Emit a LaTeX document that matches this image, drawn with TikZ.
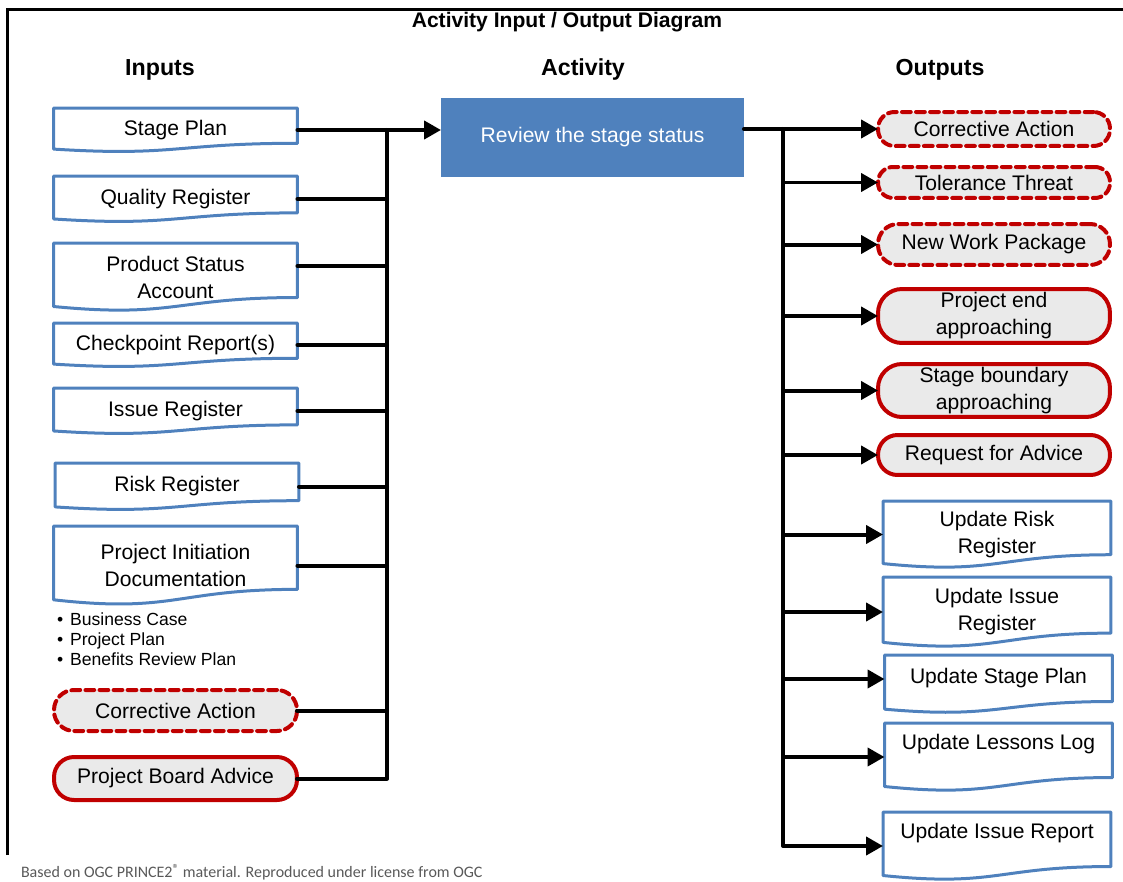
\documentclass[tikz,border=0pt]{standalone}
\usepackage{fontspec}
\setmainfont{Liberation Sans}
\newfontfamily\footfont{Carlito}
\usepackage{tikz}
\usetikzlibrary{arrows.meta, calc}

\definecolor{docblue}{HTML}{4F81BD}
\definecolor{advred}{HTML}{C00000}
\definecolor{advgray}{HTML}{EAEAEA}
\definecolor{footgray}{HTML}{595959}

% outline of a document shape round a named node
\newcommand{\docshape}[1]{%
  \draw[docline] (#1.north west) -- (#1.north east)
    -- ($(#1.north east)!0.802!(#1.south east)$)
    .. controls ($(#1.north)!0.802!(#1.south)$) and ($(#1.north)!1.107!(#1.south)$)
    .. ($(#1.north west)!0.934!(#1.south west)$) -- cycle;}

\begin{document}
\begin{tikzpicture}[line cap=round,line join=round,>={Triangle[length=0.34cm,width=0.36cm]},x=0.02cm,y=-0.02cm,
	every node/.style={font=\fontsize{12}{15.4}\selectfont, outer sep=0pt, inner sep=0pt, align=center},
	docin/.style={minimum width=4.88cm},
	docout/.style={minimum width=4.56cm},
	docline/.style={draw=docblue, line width=0.06cm},
	advin/.style={draw=advred, fill=advgray, line width=0.08cm, rounded corners=0.4cm, minimum width=4.86cm},
	advout/.style={draw=advred, fill=advgray, line width=0.08cm, rounded corners=0.3cm, minimum width=4.64cm},
	dashbox/.style={dash pattern=on 5pt off 3pt},
	uptext/.style={text height=9pt, text depth=#1},
	conn/.style={line width=0.08cm},
	head/.style={font=\bfseries\fontsize{13.2}{16}\selectfont}]
		\useasboundingbox (0,0) rectangle (1123,882);
		\draw[line width=0.06cm, line cap=butt, line join=miter] (7.5,855) -- (7.5,9.5) -- (1123,9.5);
		\node[font=\bfseries\fontsize{12}{14}\selectfont] (title) at (567,22) {Activity Input / Output Diagram};
		\node[head] (hin) at (160,70) {Inputs};
		\node[head] (hact) at (583,70) {Activity};
		\node[head] (hout) at (940,70) {Outputs};

		\node[docin, minimum height=0.88cm] (stageplan) at (175.5,130) {Stage Plan};
		\node[docin, minimum height=0.92cm] (qualreg) at (175.5,199) {Quality Register};
		\node[docin, minimum height=1.36cm] (prodstat) at (175.5,277) {Product Status\\Account};
		\node[docin, minimum height=0.88cm] (chkpt) at (175.5,345) {Checkpoint Report(s)};
		\node[docin, minimum height=0.92cm] (issreg) at (175.5,411) {Issue Register};
		\node[docin, minimum height=0.94cm] (riskreg) at (177,486.5) {Risk Register};
		\node[docin, minimum height=1.58cm] (pid) at (175.5,565.5) {Project Initiation\\Documentation};
		\docshape{stageplan}
		\docshape{qualreg}
		\docshape{prodstat}
		\docshape{chkpt}
		\docshape{issreg}
		\docshape{riskreg}
		\docshape{pid}
		\node[anchor=west, align=left, font=\fontsize{10}{11.4}\selectfont] (pidlist) at (57,639)
			{\textbullet\hspace{4pt}Business Case\\\textbullet\hspace{4pt}Project Plan\\\textbullet\hspace{4pt}Benefits Review Plan};
		\node[advin, dashbox, minimum height=0.82cm] (corrin) at (175.5,710.5) {Corrective Action};
		\node[advin, minimum height=0.86cm] (pbadv) at (175.5,778.5) {Project Board Advice};

		\node[fill=docblue, text=white, minimum width=6.06cm, minimum height=1.58cm] (act) at (592.5,137.5) {Review the stage status};

		\node[advout, dashbox, rounded corners=0.33cm, minimum height=0.68cm] (corrout) at (994,129) {Corrective Action};
		\node[advout, dashbox, minimum height=0.62cm] (tolthr) at (994,182.5) {Tolerance Threat};
		\node[advout, dashbox, rounded corners=0.4cm, minimum height=0.82cm] (newwp) at (994,244.5) {New Work Package};
		\node[advout, rounded corners=0.48cm, minimum height=1.08cm] (projend) at (994,316) {Project end\\approaching};
		\node[advout, rounded corners=0.48cm, minimum height=1.06cm] (stagebnd) at (994,390.5) {Stage boundary\\approaching};
		\node[advout, rounded corners=0.39cm, minimum height=0.8cm] (reqadv) at (994,455) {Request for Advice};
		\node[docout, minimum height=1.34cm] (updrisk) at (997,534.5) {Update Risk\\Register};
		\node[docout, minimum height=1.4cm] (updiss) at (997,612) {Update Issue\\Register};
		\node[docout, minimum height=1.16cm, uptext=9.6pt] (updstage) at (998.5,684) {Update Stage Plan};
		\node[docout, minimum height=1.36cm, uptext=17pt] (updlessons) at (998.5,757) {Update Lessons Log};
		\node[docout, minimum height=1.36cm, uptext=17pt] (updissrep) at (997,846) {Update Issue Report};
		\docshape{updrisk}
		\docshape{updiss}
		\docshape{updstage}
		\docshape{updlessons}
		\docshape{updissrep}

		\coordinate (lbus) at (387,0);
		\coordinate (rbus) at (783,0);
		\draw[conn,->] (stageplan.east) -- (stageplan.east -| act.west);
		\draw[conn] (stageplan.east -| lbus) -- (pbadv.east -| lbus) -- (pbadv.east);
		\draw[conn] (qualreg.east) -- (qualreg.east -| lbus);
		\draw[conn] ([yshift=0.22cm]prodstat.east) -- ([yshift=0.22cm]prodstat.east -| lbus);
		\draw[conn] (chkpt.east) -- (chkpt.east -| lbus);
		\draw[conn] (issreg.east) -- (issreg.east -| lbus);
		\draw[conn] (riskreg.east) -- (riskreg.east -| lbus);
		\draw[conn] (pid.east) -- (pid.east -| lbus);
		\draw[conn] (corrin.east) -- (corrin.east -| lbus);

		\draw[conn,->] (act.east |- corrout.west) -- (corrout.west);
		\draw[conn,->] (corrout.west -| rbus) -- (updissrep.west -| rbus) -- (updissrep.west);
		\draw[conn,->] (tolthr.west -| rbus) -- (tolthr.west);
		\draw[conn,->] (newwp.west -| rbus) -- (newwp.west);
		\draw[conn,->] (projend.west -| rbus) -- (projend.west);
		\draw[conn,->] (stagebnd.west -| rbus) -- (stagebnd.west);
		\draw[conn,->] (reqadv.west -| rbus) -- (reqadv.west);
		\draw[conn,->] (updrisk.west -| rbus) -- (updrisk.west);
		\draw[conn,->] (updiss.west -| rbus) -- (updiss.west);
		\draw[conn,->] ([yshift=0.1cm]updstage.west -| rbus) -- ([yshift=0.1cm]updstage.west);
		\draw[conn,->] (updlessons.west -| rbus) -- (updlessons.west);

		\node[anchor=west, font=\footfont\fontsize{9.1}{11}\selectfont, text=footgray] (footer) at (21,872)
			{Based on OGC PRINCE2\raisebox{0.5ex}{\fontsize{7.5}{8}\selectfont ®} material. Reproduced under license from OGC};
	\end{tikzpicture}
\end{document}
